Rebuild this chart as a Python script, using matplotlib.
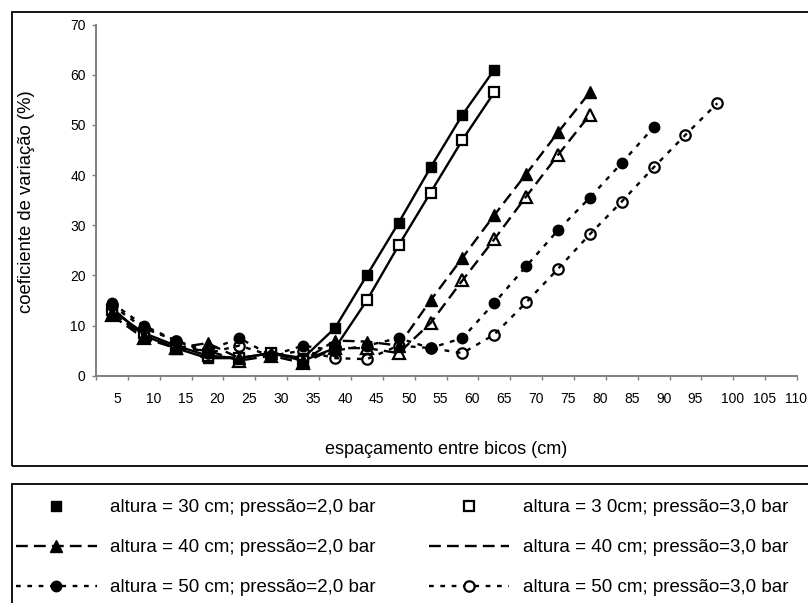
import numpy as np
import matplotlib
matplotlib.use('Agg')
import matplotlib.pyplot as plt
from matplotlib.lines import Line2D
from matplotlib.patches import Rectangle
from matplotlib.transforms import ScaledTranslation, blended_transform_factory

plt.rcParams['font.family'] = ['Liberation Sans', 'DejaVu Sans']

# ---------------- data ----------------
espacamento = [5, 10, 15, 20, 25, 30, 35, 40, 45, 50, 55, 60, 65, 70,
               75, 80, 85, 90, 95, 100, 105, 110]
cv_h30_p2 = [13.5, 8.0, 5.5, 3.5, 3.5, 4.5, 3.5, 9.5, 20.0, 30.5, 41.5, 52.0, 61.0]
cv_h30_p3 = [13.0, 8.5, 6.0, 4.0, 3.5, 4.5, 3.0, 5.5, 15.0, 26.0, 36.5, 47.0, 56.5]
cv_h40_p2 = [12.5, 8.0, 5.5, 6.5, 3.5, 4.5, 3.0, 7.0, 6.8, 6.0, 15.0, 23.5, 32.0,
             40.2, 48.5, 56.5]
cv_h40_p3 = [12.0, 7.5, 5.5, 5.0, 3.0, 4.0, 2.5, 5.5, 5.5, 4.5, 10.5, 19.0, 27.2,
             35.7, 44.0, 52.0]
cv_h50_p2 = [14.5, 10.0, 7.0, 5.0, 7.5, 4.0, 6.0, 5.0, 6.0, 7.5, 5.5, 7.5, 14.5,
             21.8, 29.0, 35.5, 42.4, 49.5]
cv_h50_p3 = [14.0, 9.5, 7.0, 4.5, 6.0, 4.0, 5.0, 3.5, 3.3, 6.0, 5.5, 4.5, 8.2,
             14.6, 21.3, 28.2, 34.7, 41.5, 48.0, 54.3]

series_labels = ["altura = 30 cm; pressão=2,0 bar",
                 "altura = 3 0cm; pressão=3,0 bar",
                 "altura = 40 cm; pressão=2,0 bar",
                 "altura = 40 cm; pressão=3,0 bar",
                 "altura = 50 cm; pressão=2,0 bar",
                 "altura = 50 cm; pressão=3,0 bar"]
x_title = "espaçamento entre bicos (cm)"
y_title = "coeficiente de variação (%)"
y_ticks = [0, 10, 20, 30, 40, 50, 60, 70]

# ---------------- layout ----------------
W, H = 808, 603
fig = plt.figure(figsize=(W / 100, H / 100), dpi=100)


def fx(px):
    return px / W


def fy(py):
    return 1 - py / H


ax_left, ax_right, ax_top, ax_bottom = 96, 797, 24.5, 375.7
ax = fig.add_axes([fx(ax_left), fy(ax_bottom),
                   (ax_right - ax_left) / W, (ax_bottom - ax_top) / H])

# chart & legend frames
fig.patches.append(Rectangle((fx(12), fy(466)), 1.2, fy(12) - fy(466),
                             transform=fig.transFigure, fill=False,
                             lw=1.3, ec='black', zorder=0))
fig.patches.append(Rectangle((fx(12), -0.2), 1.2, fy(484) + 0.2,
                             transform=fig.transFigure, fill=False,
                             lw=1.3, ec='black', zorder=0))

solid = dict(ls='-')
longdash = dict(ls=(0, (5, 2.6)))
shortdash = dict(ls=(0, (2.0, 2.8)))

styles = [
    dict(marker='s', ms=7.5, mfc='black', mec='black', **solid),
    dict(marker='s', ms=7.5, mfc='white', mec='black', mew=1.6, **solid),
    dict(marker='^', ms=8.5, mfc='black', mec='black', **longdash),
    dict(marker='^', ms=8.5, mfc='none', mec='black', mew=1.6, **longdash),
    dict(marker='o', ms=7.5, mfc='black', mec='black', **shortdash),
    dict(marker='o', ms=7.5, mfc='none', mec='black', mew=1.6, **shortdash),
]
all_series = [cv_h30_p2, cv_h30_p3, cv_h40_p2, cv_h40_p3, cv_h50_p2, cv_h50_p3]

for vals, st in zip(all_series, styles):
    ax.plot(np.arange(len(vals)), vals, color='black', lw=1.7,
            clip_on=False, **st)

ax.set_xlim(-0.5, len(espacamento) - 0.5)
ax.set_ylim(0, 70)
ax.set_yticks(y_ticks)
ax.set_xticks(np.arange(-0.5, len(espacamento), 1.0))
ax.set_xticklabels([])

for s in ['top', 'right']:
    ax.spines[s].set_visible(False)
for s in ['left', 'bottom']:
    ax.spines[s].set_color('#7f7f7f')
    ax.spines[s].set_linewidth(1.4)
ax.tick_params(axis='y', direction='out', length=2.8, width=1.0, color='#7f7f7f',
               pad=4.6, labelsize=10)
ax.tick_params(axis='x', direction='out', length=3.2, width=1.0, color='#7f7f7f')

# category labels (Excel-like offset)
trans = blended_transform_factory(ax.transData, ax.transAxes)
for i, lab in enumerate(espacamento):
    txt = str(lab)
    off = ScaledTranslation(5.0 * len(txt) / 100, -23.3 / 100, fig.dpi_scale_trans)
    ax.text(i, 0, txt, transform=trans + off, ha='center', va='center',
            fontsize=10)

fig.text(fx(446.5), fy(450), x_title, ha='center', va='center', fontsize=13)
fig.text(fx(27), fy(202), y_title, ha='center', va='center', rotation=90,
         fontsize=13.3)

# legend (Excel-style entries)
h = [
    Line2D([], [], color='black', ls='none', marker='s', ms=7.5, mfc='black', mec='black'),
    Line2D([], [], color='black', lw=1.7, marker='^', ms=8.5, mfc='black', **longdash),
    Line2D([], [], color='black', lw=1.7, marker='o', ms=7.5, mfc='black', **shortdash),
    Line2D([], [], color='black', ls='none', marker='s', ms=7.5, mfc='white', mec='black', mew=1.6),
    Line2D([], [], color='black', lw=1.7, **longdash),
    Line2D([], [], color='black', lw=1.7, marker='o', ms=7.5, mfc='white', mec='black', mew=1.6, **shortdash),
]
labs = [series_labels[0], series_labels[2], series_labels[4],
        series_labels[1], series_labels[3], series_labels[5]]
fig.legend(h, labs, ncol=2, loc='upper left', bbox_to_anchor=(fx(16), fy(499)),
           frameon=False, fontsize=13.5, handlelength=4.3, handletextpad=0.7,
           columnspacing=2.85, labelspacing=1.22, borderpad=0, borderaxespad=0,
           numpoints=1)

fig.savefig('out.png', dpi=100)
